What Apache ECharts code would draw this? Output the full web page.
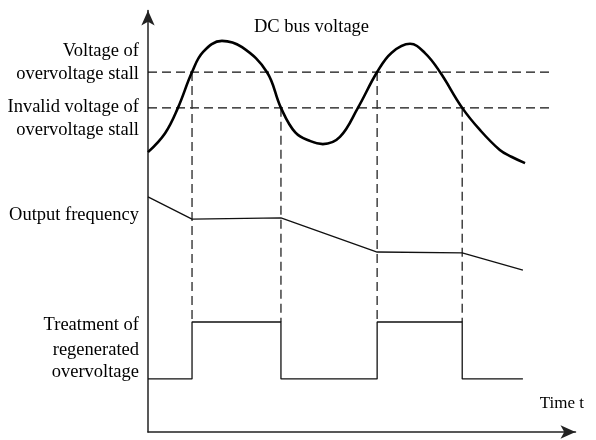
<!DOCTYPE html>
<html>
<head>
<meta charset="utf-8">
<script src="https://cdn.jsdelivr.net/npm/echarts@6/dist/echarts.min.js"></script>
<style>
  html, body { margin: 0; padding: 0; background: #fff; }
  #chart { width: 596px; height: 440px; }
</style>
</head>
<body>
<div id="chart"></div>
<script>
// Time runs 0..10 along x; every signal shares one 0..100 level scale,
// stacked from the bottom: regeneration flag, output frequency, DC bus voltage.

// DC bus voltage trace
const busTime  = [0, 0.40, 0.70, 1.03, 1.29, 1.73, 2.20, 2.78, 3.11, 3.45, 3.80, 4.09,
                  4.49, 4.91, 5.36, 5.70, 6.13, 6.48, 6.83, 7.35, 7.77, 8.23, 8.50, 8.82];
const busLevel = [66.4, 70.9, 76.9, 85.4, 90.2, 92.8, 91.3, 85.4, 76.9, 71.0, 69.0, 68.3,
                  70.0, 76.9, 85.4, 90.0, 92.1, 89.9, 85.4, 76.9, 71.6, 66.9, 65.3, 63.8];

// Stall threshold and its release (invalid) threshold
const stallLevel = 85.4;
const releaseLevel = 76.9;
const thresholdEnd = 9.4;

// Output frequency trace
const freqTime  = [0, 1.03, 3.11, 5.36, 7.35, 8.77];
const freqLevel = [55.8, 50.5, 50.8, 42.7, 42.5, 38.4];

// Regenerated-overvoltage handling flag
const flagLow = 12.6;
const flagHigh = 26.1;
const flagEnd = 8.77;

// Moments the handling switches on (stall reached) and off (released)
const events = [1.03, 3.11, 5.36, 7.35];

const busData = busTime.map((t, i) => [t, busLevel[i]]);
const freqData = freqTime.map((t, i) => [t, freqLevel[i]]);

const flagData = [[0, flagLow]];
events.forEach((t, i) => {
  const on = i % 2 === 0;
  flagData.push([t, on ? flagLow : flagHigh]);
  flagData.push([t, on ? flagHigh : flagLow]);
});
flagData.push([flagEnd, flagLow]);

const inkColor = '#000';
const thinLine = { color: '#111', width: 1.3 };

const series = [
  {
    type: 'line', data: [[0, stallLevel], [thresholdEnd, stallLevel]],
    symbol: 'none', silent: true,
    lineStyle: { color: '#111', width: 1.3, type: [9, 5] }
  },
  {
    type: 'line', data: [[0, releaseLevel], [thresholdEnd, releaseLevel]],
    symbol: 'none', silent: true,
    lineStyle: { color: '#111', width: 1.3, type: [9, 5] }
  }
];

events.forEach((t, i) => {
  series.push({
    type: 'line',
    data: [[t, i % 2 === 0 ? stallLevel : releaseLevel], [t, flagHigh]],
    symbol: 'none', silent: true,
    lineStyle: { color: '#333', width: 1.4, type: [9, 5] }
  });
});

series.push(
  {
    name: 'DC bus voltage', type: 'line', data: busData,
    symbol: 'none', smooth: 0.4, silent: true,
    lineStyle: { color: inkColor, width: 2.6 }, z: 5
  },
  {
    name: 'Output frequency', type: 'line', data: freqData,
    symbol: 'none', silent: true, lineStyle: thinLine, z: 4
  },
  {
    name: 'Treatment of regenerated overvoltage', type: 'line', data: flagData,
    symbol: 'none', silent: true, lineStyle: thinLine, z: 4
  }
);

const font = '18.5px "Liberation Serif", "Times New Roman", serif';
function label(text, x, y, align, f) {
  return {
    type: 'text', x: x, y: y, silent: true,
    style: { text: text, font: f || font, fill: inkColor, align: align || 'right', verticalAlign: 'middle' }
  };
}

const axisStyle = {
  show: true,
  symbol: ['none', 'arrow'],
  symbolSize: [10, 15],
  lineStyle: { color: '#222', width: 1.5 }
};

const chart = echarts.init(document.getElementById('chart'), null, { renderer: 'canvas' });
chart.setOption({
  animation: false,
  backgroundColor: '#fff',
  grid: { left: 148, right: 20.5, top: 10.5, bottom: 8, containLabel: false },
  xAxis: {
    type: 'value', min: 0, max: 10,
    axisLine: axisStyle, axisTick: { show: false },
    axisLabel: { show: false }, splitLine: { show: false }
  },
  yAxis: {
    type: 'value', min: 0, max: 100,
    axisLine: axisStyle, axisTick: { show: false },
    axisLabel: { show: false }, splitLine: { show: false }
  },
  series: series,
  graphic: [
    label('DC bus voltage', 311.5, 27.5, 'center'),
    label('Voltage of', 139, 51.5),
    label('overvoltage stall', 139, 74.5),
    label('Invalid voltage of', 139, 107.5),
    label('overvoltage stall', 139, 130.5),
    label('Output frequency', 139, 215.5),
    label('Treatment of', 139, 325.5),
    label('regenerated', 139, 350.5),
    label('overvoltage', 139, 372),
    label('Time t', 584, 404, 'right', '17px "Liberation Serif", "Times New Roman", serif')
  ]
});
</script>
</body>
</html>
